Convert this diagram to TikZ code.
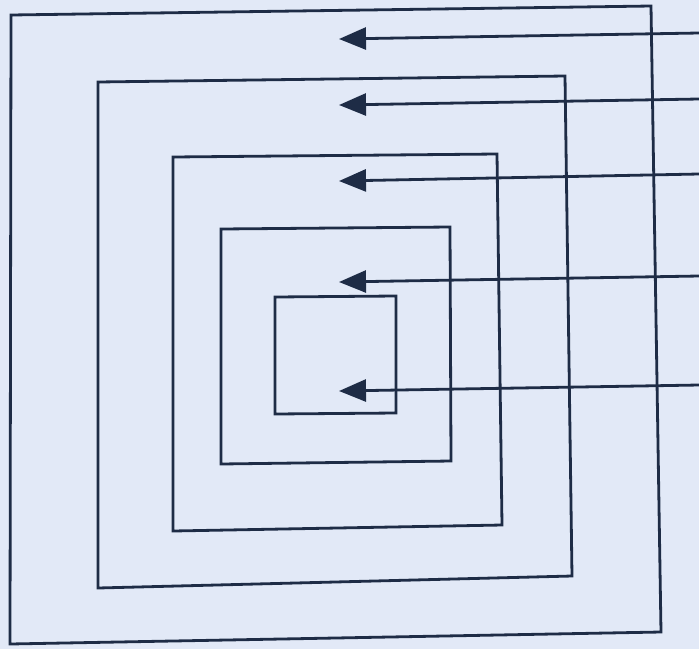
\documentclass[tikz,border=0pt]{standalone}
\usetikzlibrary{arrows.meta}
\definecolor{paper}{RGB}{226,233,247}
\definecolor{ink}{RGB}{30,44,70}
\begin{document}
\begin{tikzpicture}[x=1pt,y=-1pt,
  frame/.style={draw=ink,line width=2.8pt,line join=miter},
  pointer/.style={draw=ink,line width=2.8pt,-{Triangle[length=27pt,width=22pt]}}]
\fill[paper] (0,0) rectangle (699,649);
\useasboundingbox (0,0) rectangle (699,649);
% nested frames, outermost first
\draw[frame] (11,15) -- (651,6) -- (661,632) -- (10,644) -- cycle;
\draw[frame] (98,82) -- (565,76) -- (572,576) -- (98,588) -- cycle;
\draw[frame] (173,157) -- (497,154) -- (502,525) -- (173,531) -- cycle;
\draw[frame] (221,229) -- (450,227) -- (451,461) -- (221,464) -- cycle;
\draw[frame] (275,297) -- (396,296) -- (396,413) -- (275,414) -- cycle;
% pointers entering from the right
\coordinate (s1) at (699,33);  \coordinate (t1) at (339,39);
\coordinate (s2) at (699,99);  \coordinate (t2) at (339,105);
\coordinate (s3) at (699,174); \coordinate (t3) at (339,181);
\coordinate (s4) at (699,276); \coordinate (t4) at (339,282);
\coordinate (s5) at (699,385); \coordinate (t5) at (339,391);
\foreach \i in {1,...,5} \draw[pointer] (s\i) -- (t\i);
\end{tikzpicture}
\end{document}
